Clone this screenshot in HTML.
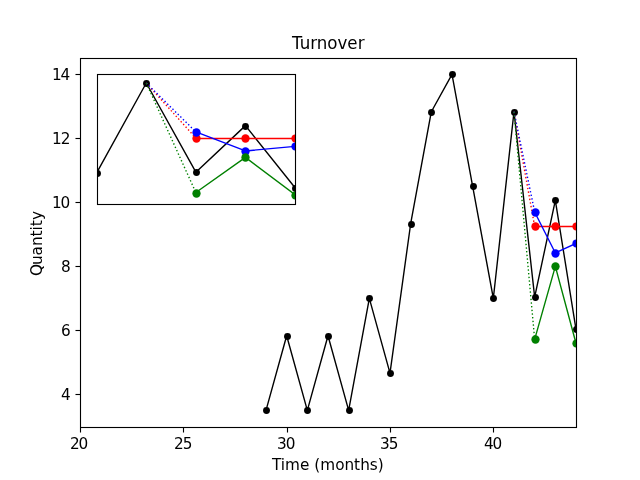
<!DOCTYPE html>
<html lang="en">
<head>
<meta charset="utf-8">
<title>Turnover</title>
<style>
html,body{margin:0;padding:0;background:#fff;}
body{width:640px;height:480px;overflow:hidden;}
svg{display:block;}
text{font-family:"DejaVu Sans","Liberation Sans",sans-serif;fill:#000;}
.t11{font-size:15.28px;}
.t12{font-size:16.67px;}
.ln polyline{fill:none;stroke-width:1.389;stroke-linejoin:round;stroke-linecap:butt;}
</style>
</head>
<body>
<svg width="640" height="480" viewBox="0 0 640 480">
<defs>
<clipPath id="cm"><rect x="80" y="58" width="496" height="369"/></clipPath>
<clipPath id="ci"><rect x="97" y="74" width="198" height="130"/></clipPath>
</defs>
<rect x="0" y="0" width="640" height="480" fill="#fff"/>
<g class="ln" clip-path="url(#cm)">
<polyline points="266,410.4 286.667,335.733 307.333,410.4 328,335.733 348.667,410.4 369.333,298.4 390,373.067 410.667,223.733 431.333,111.733 452,74.4 472.667,186.4 493.333,298.4 514,111.733 534.667,297.12 555.333,200.32 576,329.44" stroke="#000"/>
<circle cx="266.5" cy="410.5" r="3.44" fill="#000"/>
<circle cx="287.5" cy="336.5" r="3.44" fill="#000"/>
<circle cx="307.5" cy="410.5" r="3.44" fill="#000"/>
<circle cx="328.5" cy="336.5" r="3.44" fill="#000"/>
<circle cx="349.5" cy="410.5" r="3.44" fill="#000"/>
<circle cx="369.5" cy="298.5" r="3.44" fill="#000"/>
<circle cx="390.5" cy="373.5" r="3.44" fill="#000"/>
<circle cx="411.5" cy="224.5" r="3.44" fill="#000"/>
<circle cx="431.5" cy="112.5" r="3.44" fill="#000"/>
<circle cx="452.5" cy="74.5" r="3.44" fill="#000"/>
<circle cx="473.5" cy="186.5" r="3.44" fill="#000"/>
<circle cx="493.5" cy="298.5" r="3.44" fill="#000"/>
<circle cx="514.5" cy="112.5" r="3.44" fill="#000"/>
<circle cx="535.5" cy="297.5" r="3.44" fill="#000"/>
<circle cx="555.5" cy="200.5" r="3.44" fill="#000"/>
<circle cx="576.5" cy="329.5" r="3.44" fill="#000"/>
<polyline points="514,111.733 534.667,226.4" stroke="#f00" stroke-dasharray="1.389 2.292"/>
<polyline points="534.667,226.5 555.333,226.5 576,226.5" stroke="#f00" stroke-width="1.5"/>
<circle cx="535.5" cy="226.5" r="4.15" fill="#f00"/>
<circle cx="555.5" cy="226.5" r="4.15" fill="#f00"/>
<circle cx="576.5" cy="226.5" r="4.15" fill="#f00"/>
<polyline points="514,111.733 534.667,212" stroke="#00f" stroke-dasharray="1.389 2.292"/>
<polyline points="534.667,212 555.333,252.96 576,243.36" stroke="#00f"/>
<circle cx="535.5" cy="212.5" r="4.15" fill="#00f"/>
<circle cx="555.5" cy="253.5" r="4.15" fill="#00f"/>
<circle cx="576.5" cy="243.5" r="4.15" fill="#00f"/>
<polyline points="514,111.733 534.667,339.36" stroke="#008000" stroke-dasharray="1.389 2.292"/>
<polyline points="534.667,339.36 555.333,266.4 576,343.2" stroke="#008000"/>
<circle cx="535.5" cy="339.5" r="4.15" fill="#008000"/>
<circle cx="555.5" cy="266.5" r="4.15" fill="#008000"/>
<circle cx="576.5" cy="343.5" r="4.15" fill="#008000"/>
</g>
<g>
<rect x="79" y="428" width="3" height="4.5" fill="#000" fill-opacity="0.055"/><rect x="80" y="428" width="1" height="4.5" fill="#000"/>
<rect x="182" y="428" width="3" height="4.5" fill="#000" fill-opacity="0.055"/><rect x="183" y="428" width="1" height="4.5" fill="#000"/>
<rect x="286" y="428" width="3" height="4.5" fill="#000" fill-opacity="0.055"/><rect x="287" y="428" width="1" height="4.5" fill="#000"/>
<rect x="389" y="428" width="3" height="4.5" fill="#000" fill-opacity="0.055"/><rect x="390" y="428" width="1" height="4.5" fill="#000"/>
<rect x="492" y="428" width="3" height="4.5" fill="#000" fill-opacity="0.055"/><rect x="493" y="428" width="1" height="4.5" fill="#000"/>
<rect x="75.5" y="73" width="4.5" height="3" fill="#000" fill-opacity="0.055"/><rect x="75.5" y="74" width="4.5" height="1" fill="#000"/>
<rect x="75.5" y="137" width="4.5" height="3" fill="#000" fill-opacity="0.055"/><rect x="75.5" y="138" width="4.5" height="1" fill="#000"/>
<rect x="75.5" y="201" width="4.5" height="3" fill="#000" fill-opacity="0.055"/><rect x="75.5" y="202" width="4.5" height="1" fill="#000"/>
<rect x="75.5" y="265" width="4.5" height="3" fill="#000" fill-opacity="0.055"/><rect x="75.5" y="266" width="4.5" height="1" fill="#000"/>
<rect x="75.5" y="329" width="4.5" height="3" fill="#000" fill-opacity="0.055"/><rect x="75.5" y="330" width="4.5" height="1" fill="#000"/>
<rect x="75.5" y="393" width="4.5" height="3" fill="#000" fill-opacity="0.055"/><rect x="75.5" y="394" width="4.5" height="1" fill="#000"/>
<rect x="79" y="58" width="3" height="370" fill="#000" fill-opacity="0.055"/><rect x="80" y="58" width="1" height="370" fill="#000"/>
<rect x="575" y="58" width="3" height="370" fill="#000" fill-opacity="0.055"/><rect x="576" y="58" width="1" height="370" fill="#000"/>
<rect x="80" y="57" width="497" height="3" fill="#000" fill-opacity="0.055"/><rect x="80" y="58" width="497" height="1" fill="#000"/>
<rect x="80" y="426" width="497" height="3" fill="#000" fill-opacity="0.055"/><rect x="80" y="427" width="497" height="1" fill="#000"/>
</g>
<rect x="97" y="74" width="199" height="131" fill="#fff"/>
<g class="ln" clip-path="url(#ci)">
<polyline points="96.667,172.827 146.267,82.993 195.867,172.211 245.467,125.626 295.067,187.765" stroke="#000"/>
<circle cx="97.5" cy="173.5" r="3.44" fill="#000"/>
<circle cx="146.5" cy="83.5" r="3.44" fill="#000"/>
<circle cx="196.5" cy="172.5" r="3.44" fill="#000"/>
<circle cx="245.5" cy="126.5" r="3.44" fill="#000"/>
<circle cx="295.5" cy="188.5" r="3.44" fill="#000"/>
<polyline points="146.267,82.993 195.867,138.177" stroke="#f00" stroke-dasharray="1.389 2.292"/>
<polyline points="195.867,138.5 245.467,138.5 295.067,138.5" stroke="#f00" stroke-width="1.5"/>
<circle cx="196.5" cy="138.5" r="4.15" fill="#f00"/>
<circle cx="245.5" cy="138.5" r="4.15" fill="#f00"/>
<circle cx="295.5" cy="138.5" r="4.15" fill="#f00"/>
<polyline points="146.267,82.993 195.867,131.863" stroke="#00f" stroke-dasharray="1.389 2.292"/>
<polyline points="195.867,131.863 245.467,150.959 295.067,146.339" stroke="#00f"/>
<circle cx="196.5" cy="132.5" r="4.15" fill="#00f"/>
<circle cx="245.5" cy="151.5" r="4.15" fill="#00f"/>
<circle cx="295.5" cy="146.5" r="4.15" fill="#00f"/>
<polyline points="146.267,82.993 195.867,192.539" stroke="#008000" stroke-dasharray="1.389 2.292"/>
<polyline points="195.867,192.539 245.467,157.427 295.067,194.618" stroke="#008000"/>
<circle cx="196.5" cy="193.5" r="4.15" fill="#008000"/>
<circle cx="245.5" cy="157.5" r="4.15" fill="#008000"/>
<circle cx="295.5" cy="195.5" r="4.15" fill="#008000"/>
</g>
<g>
<rect x="96" y="74" width="3" height="131" fill="#000" fill-opacity="0.055"/><rect x="97" y="74" width="1" height="131" fill="#000"/>
<rect x="294" y="74" width="3" height="131" fill="#000" fill-opacity="0.055"/><rect x="295" y="74" width="1" height="131" fill="#000"/>
<rect x="97" y="73" width="199" height="3" fill="#000" fill-opacity="0.055"/><rect x="97" y="74" width="199" height="1" fill="#000"/>
<rect x="97" y="203" width="199" height="3" fill="#000" fill-opacity="0.055"/><rect x="97" y="204" width="199" height="1" fill="#000"/>
</g>
<g>
<text class="t12" transform="translate(292,49) scale(1,1.07)" x="0 7.75 18.25 24.875 35.375 45.5 55.375 65.875" y="0">Turnover</text>
<text class="t11" transform="translate(271.875,470)" x="0 8.875 13.125 28 37.5 42.375 48.25 63.375 72.5 82.125 88.375 97.75 105.75" y="0">Time (months)</text>
<text class="t11" transform="translate(42,277) rotate(-90) scale(1,1.08)" x="1 12 21.625 31 40.625 46.625 50.875 57.125" y="0">Quantity</text>
<text class="t11" transform="translate(69.9,449) scale(1,1.08)" x="0 8.625" y="0">20</text>
<text class="t11" transform="translate(173.9,449)" x="0 8.875" y="0">25</text>
<text class="t11" transform="translate(276.9,449) scale(1,1.08)" x="0 8.875" y="0">30</text>
<text class="t11" transform="translate(379.65,449) scale(1,0.98)" x="0.25 9.125" y="0">35</text>
<text class="t11" transform="translate(483.9,449) scale(1,0.98)" x="0 8.625" y="0">40</text>
<text class="t11" transform="translate(51.975,80) scale(1,1.02)" x="0 8.625" y="0">14</text>
<text class="t11" transform="translate(51.725,144) scale(1,1.04)" x="0.25 9.125" y="0">12</text>
<text class="t11" transform="translate(51.975,208) scale(1,1.02)" x="0 8.625" y="0">10</text>
<text class="t11" transform="translate(61,272) scale(1,1.05)" x="0" y="0">8</text>
<text class="t11" transform="translate(61,336) scale(1,1.08)" x="0" y="0">6</text>
<text class="t11" transform="translate(61,400) scale(1,1.05)" x="0" y="0">4</text>
</g>
</svg>
</body>
</html>
